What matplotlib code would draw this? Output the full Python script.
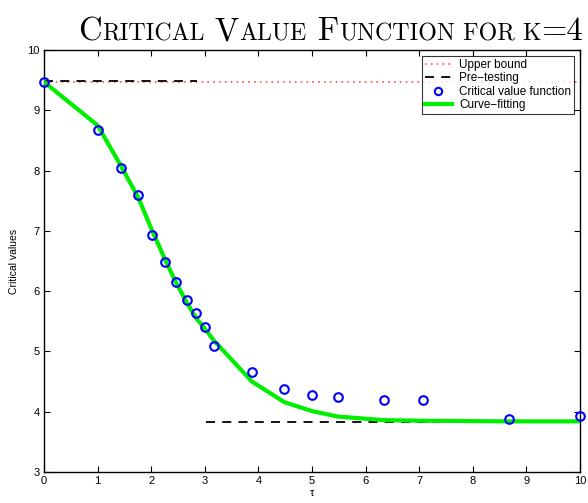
import matplotlib
matplotlib.use("Agg")
import matplotlib.pyplot as plt
from matplotlib.offsetbox import HPacker, TextArea, AnchoredOffsetbox

tau = [0, 1.0, 1.44, 1.76, 2.01, 2.26, 2.46, 2.67, 2.84, 3.0, 3.17, 3.88, 4.48, 5.0, 5.48, 6.34, 7.07, 8.67, 10]
crit_vals = [9.47, 8.67, 8.04, 7.59, 6.93, 6.48, 6.15, 5.85, 5.64, 5.40, 5.09, 4.66, 4.38, 4.28, 4.24, 4.19, 4.19, 3.88, 3.93]
curve_fit = [9.47, 8.75, 8.07, 7.55, 7.02, 6.52, 6.15, 5.80, 5.55, 5.38, 5.18, 4.50, 4.16, 4.01, 3.92, 3.86, 3.85, 3.84, 3.84]
upper_x = [0, 10]
upper_y = [9.47, 9.47]
pre_x1 = [0, 2.85]
pre_y1 = [9.49, 9.49]
pre_x2 = [3.02, 10]
pre_y2 = [3.83, 3.83]

plt.rcParams['font.family'] = ['Liberation Sans', 'DejaVu Sans']

fig = plt.figure(figsize=(5.88, 5.03), dpi=100)
ax = fig.add_axes([44/588, 1-472/503, (580-44)/588, (472-50)/503])

ax.plot(upper_x, upper_y, linestyle=(0, (1, 2.5)), color='#ff5050', lw=1.2, label='Upper bound')
ax.plot(pre_x1, pre_y1, linestyle=(0, (5, 4)), color='black', lw=1.3, label='Pre\u2212testing')
ax.plot(pre_x2, pre_y2, linestyle=(0, (5, 4)), color='black', lw=1.3)
ax.plot(tau, crit_vals, linestyle='none', marker='o', ms=6.2, mfc='none', mec='#0000ff', mew=1.5,
        label='Critical value function', zorder=4, clip_on=False)
ax.plot(tau, curve_fit, color='#00ee00', lw=3, label='Curve\u2212fitting', zorder=3)

ax.set_xlim(0, 10)
ax.set_ylim(3, 10)
ax.set_xticks(range(0, 11))
ax.set_yticks(range(3, 11))
ax.tick_params(direction='in', top=True, right=True, labelsize=8, length=4, width=0.8, pad=3)
for s in ax.spines.values():
    s.set_linewidth(1.0)
ax.set_xlabel('\u03c4', fontsize=8, labelpad=1)
ax.set_ylabel('Critical values', fontsize=7.5, labelpad=6)

leg = ax.legend(loc='upper right', fontsize=8.5, frameon=True, fancybox=False, edgecolor='black',
                borderpad=0.25, labelspacing=0.12, handlelength=2.3, handletextpad=0.6,
                borderaxespad=0.5, markerscale=0.85)
leg.get_frame().set_linewidth(0.8)

# Small-caps title
big = 23.5
small = 17.2
pieces = [("C", big), ("RITICAL", small), (" V", big), ("ALUE", small), (" F", big),
          ("UNCTION", small), (" FOR K", small), ("=4", big)]
areas = [TextArea(t, textprops=dict(fontsize=s, family='cmr10')) for t, s in pieces]
box = HPacker(children=areas, align="baseline", pad=0, sep=0)
anch = AnchoredOffsetbox(loc='lower right', child=box, pad=0, frameon=False,
                         bbox_to_anchor=(583/588, 1-46/503), bbox_transform=fig.transFigure,
                         borderpad=0)
fig.add_artist(anch)

fig.savefig('out.png', dpi=100)
